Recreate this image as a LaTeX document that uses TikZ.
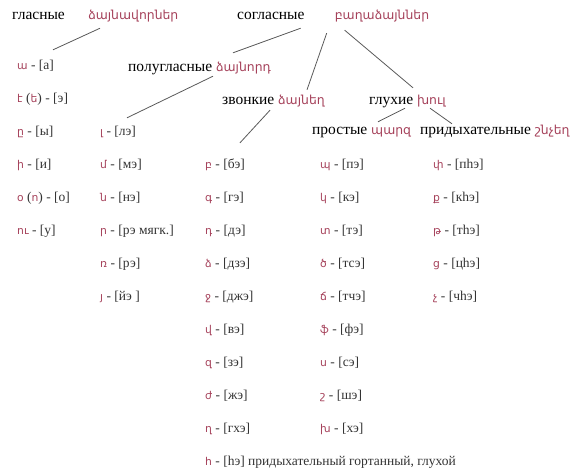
\documentclass[tikz,border=0pt]{standalone}
\usepackage{fontspec}
\setmainfont{Liberation Serif}
\newfontfamily\armfont[Scale=0.8]{DejaVu Sans}
\usetikzlibrary{positioning}
\definecolor{armred}{RGB}{165,65,90}
\newcommand{\hy}[1]{{\armfont\color{armred}#1}}

\begin{document}
\begin{tikzpicture}[x=1pt,y=1pt]
      \tikzstyle{head}=[inner sep=0pt,text height=11pt,text depth=3pt,anchor=west,font=\fontsize{15.5}{18}\selectfont]
      \tikzstyle{item}=[inner sep=0pt,text height=10pt,text depth=3pt,anchor=west,font=\fontsize{13.5}{16}\selectfont,text=black!80]
      \tikzstyle{link}=[draw=black!65,line width=0.8pt]
      \useasboundingbox (0,0) rectangle (575,-472);

      % top line
      \node[head] (vow) at (12,-15) {гласные};
      \node[head,right=23pt of vow] (vowhy) {\hy{ձայնավորներ}};
      \node[head] (cons) at (237,-15) {согласные};
      \node[head,right=30pt of cons] (conshy) {\hy{բաղաձայններ}};

      % groups
      \node[head] (semi) at (128,-67) {полугласные \hy{ձայնորդ}};
      \node[head] (voiced) at (222,-100) {звонкие \hy{ձայնեղ}};
      \node[head] (voiceless) at (369,-100) {глухие \hy{խուլ}};
      \node[head] (plain) at (312,-130) {простые \hy{պարզ}};
      \node[head] (aspir) at (420,-130) {придыхательные \hy{շնչեղ}};

      % vowels
      \node[item] (a1) at (17,-66) {\hy{ա} - [а]};
      \node[item,below=33pt of a1.west,anchor=west] (a2) {\hy{է} (\hy{ե}) - [э]};
      \node[item,below=33pt of a2.west,anchor=west] (a3) {\hy{ը} - [ы]};
      \node[item,below=33pt of a3.west,anchor=west] (a4) {\hy{ի} - [и]};
      \node[item,below=33pt of a4.west,anchor=west] (a5) {\hy{օ} (\hy{ո}) - [о]};
      \node[item,below=33pt of a5.west,anchor=west] (a6) {\hy{ու} - [у]};

      % semivowels
      \node[item] (l1) at (100,-132) {\hy{լ} - [лэ]};
      \node[item,below=33pt of l1.west,anchor=west] (l2) {\hy{մ} - [мэ]};
      \node[item,below=33pt of l2.west,anchor=west] (l3) {\hy{ն} - [нэ]};
      \node[item,below=33pt of l3.west,anchor=west] (l4) {\hy{ր} - [рэ мягк.]};
      \node[item,below=33pt of l4.west,anchor=west] (l5) {\hy{ռ} - [рэ]};
      \node[item,below=33pt of l5.west,anchor=west] (l6) {\hy{յ} - [йэ ]};

      % voiced
      \node[item] (z1) at (205,-165) {\hy{բ} - [бэ]};
      \node[item,below=33pt of z1.west,anchor=west] (z2) {\hy{գ} - [гэ]};
      \node[item,below=33pt of z2.west,anchor=west] (z3) {\hy{դ} - [дэ]};
      \node[item,below=33pt of z3.west,anchor=west] (z4) {\hy{ձ} - [дзэ]};
      \node[item,below=33pt of z4.west,anchor=west] (z5) {\hy{ջ} - [джэ]};
      \node[item,below=33pt of z5.west,anchor=west] (z6) {\hy{վ} - [вэ]};
      \node[item,below=33pt of z6.west,anchor=west] (z7) {\hy{զ} - [зэ]};
      \node[item,below=33pt of z7.west,anchor=west] (z8) {\hy{ժ} - [жэ]};
      \node[item,below=33pt of z8.west,anchor=west] (z9) {\hy{ղ} - [гхэ]};
      \node[item,below=33pt of z9.west,anchor=west] (hh) {\hy{հ} - [hэ] придыхательный гортанный, глухой};

      % voiceless plain
      \node[item] (p1) at (320,-165) {\hy{պ} - [пэ]};
      \node[item,below=33pt of p1.west,anchor=west] (p2) {\hy{կ} - [кэ]};
      \node[item,below=33pt of p2.west,anchor=west] (p3) {\hy{տ} - [тэ]};
      \node[item,below=33pt of p3.west,anchor=west] (p4) {\hy{ծ} - [тсэ]};
      \node[item,below=33pt of p4.west,anchor=west] (p5) {\hy{ճ} - [тчэ]};
      \node[item,below=33pt of p5.west,anchor=west] (p6) {\hy{ֆ} - [фэ]};
      \node[item,below=33pt of p6.west,anchor=west] (p7) {\hy{ս} - [сэ]};
      \node[item,below=33pt of p7.west,anchor=west] (p8) {\hy{շ} - [шэ]};
      \node[item,below=33pt of p8.west,anchor=west] (p9) {\hy{խ} - [хэ]};

      % voiceless aspirated
      \node[item] (q1) at (433,-165) {\hy{փ} - [пhэ]};
      \node[item,below=33pt of q1.west,anchor=west] (q2) {\hy{ք} - [кhэ]};
      \node[item,below=33pt of q2.west,anchor=west] (q3) {\hy{թ} - [тhэ]};
      \node[item,below=33pt of q3.west,anchor=west] (q4) {\hy{ց} - [цhэ]};
      \node[item,below=33pt of q4.west,anchor=west] (q5) {\hy{չ} - [чhэ]};

      \draw[link] ([shift={(12pt,-6pt)}]vowhy.south west) -- ([shift={(36pt,9.5pt)}]a1.north west);
      \draw[link] ([shift={(-4pt,-6pt)}]cons.south east) -- ([shift={(105pt,7pt)}]semi.north west);
      \draw[link] ([shift={(-8pt,-11pt)}]conshy.south west) -- ([shift={(85pt,3pt)}]voiced.north west);
      \draw[link] ([shift={(10pt,-8pt)}]conshy.south west) -- ([shift={(44pt,5pt)}]voiceless.north west);
      \draw[link] ([shift={(85pt,-2pt)}]semi.south west) -- ([shift={(27pt,7.5pt)}]l1.north west);
      \draw[link] ([shift={(48pt,-3pt)}]voiced.south west) -- ([shift={(35pt,15.5pt)}]z1.north west);
      \draw[link] ([shift={(36pt,-1pt)}]voiceless.south west) -- ([shift={(66pt,1pt)}]plain.north west);
      \draw[link] ([shift={(61pt,-1pt)}]voiceless.south west) -- ([shift={(32pt,-1pt)}]aspir.north west);
    \end{tikzpicture}
\end{document}
